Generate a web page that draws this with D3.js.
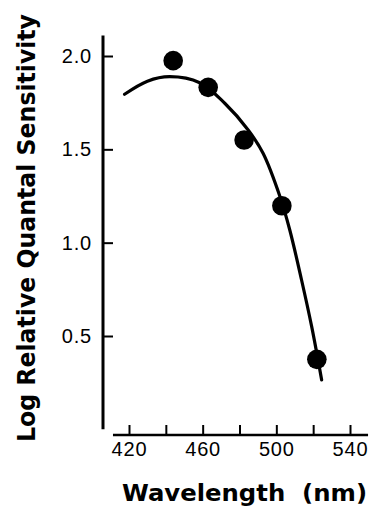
<!DOCTYPE html>
<html><head><meta charset="utf-8">
<script src="https://cdn.jsdelivr.net/npm/d3@7"></script>
<style>
html,body{margin:0;padding:0;background:#fff;}
svg{display:block;}
</style></head>
<body>
<svg id="chart" width="369" height="518"></svg>
<script>
// Data
const pointWavelengths = [444, 463, 482.5, 503, 522];
const pointValues = [1.975, 1.832, 1.55, 1.198, 0.375];
const curveWavelengths = [417.6, 430, 442, 458.4, 472, 484.7, 492.8, 502, 507.3, 513.7, 519.2, 524.6];
const curveValues = [1.795, 1.865, 1.889, 1.857, 1.747, 1.604, 1.479, 1.246, 1.068, 0.80, 0.55, 0.265];
const xTicks = [420, 440, 460, 480, 500, 520, 540];
const xTickLabels = ["420", "", "460", "", "500", "", "540"];
const yTicks = [0.5, 1.0, 1.5, 2.0];
const yTickLabels = ["0.5", "1.0", "1.5", "2.0"];

const svg = d3.select("#chart");
const x = d3.scaleLinear().domain([420, 540]).range([129, 350]);
const y = d3.scaleLinear().domain([0.5, 2.0]).range([336, 56]);
const yAxisX = 103, xAxisY = 435;

// Y axis
const gy = svg.append("g").attr("transform", `translate(${yAxisX},0)`)
  .call(d3.axisLeft(y).tickValues(yTicks).tickFormat((d,i)=>yTickLabels[i])
    .tickSizeInner(-10).tickSizeOuter(0).tickPadding(11));
gy.select(".domain").remove();
gy.selectAll(".tick line").attr("stroke","#000").attr("stroke-width",2);
gy.selectAll(".tick text").attr("font-family","Liberation Sans, Arial, sans-serif")
  .attr("font-size",20).attr("fill","#000").attr("letter-spacing",0.8);
svg.append("line").attr("x1",yAxisX).attr("x2",yAxisX)
  .attr("y1",y(2.11)).attr("y2",y(0.0)).attr("stroke","#000").attr("stroke-width",3);

// X axis
const gx = svg.append("g").attr("transform", `translate(0,${xAxisY})`)
  .call(d3.axisBottom(x).tickValues(xTicks).tickFormat((d,i)=>xTickLabels[i])
    .tickSizeInner(-10).tickSizeOuter(0).tickPadding(7));
gx.select(".domain").remove();
gx.selectAll(".tick line").attr("stroke","#000").attr("stroke-width",2);
gx.selectAll(".tick text").attr("font-family","Liberation Sans, Arial, sans-serif")
  .attr("font-size",20).attr("fill","#000").attr("letter-spacing",0.8);
svg.append("line").attr("x1",x(411.3)).attr("x2",x(549.8))
  .attr("y1",xAxisY).attr("y2",xAxisY).attr("stroke","#000").attr("stroke-width",2.5);

// Curve
const curveData = curveWavelengths.map((w,i)=>[w,curveValues[i]]);
const line = d3.line().x(d=>x(d[0])).y(d=>y(d[1])).curve(d3.curveCatmullRom.alpha(0.5));
svg.append("path").datum(curveData).attr("d",line)
  .attr("fill","none").attr("stroke","#000").attr("stroke-width",3.2).attr("stroke-linecap","round");

// Points
svg.selectAll("circle.pt").data(pointWavelengths.map((w,i)=>[w,pointValues[i]]))
  .enter().append("circle").attr("class","pt")
  .attr("cx",d=>x(d[0])).attr("cy",d=>y(d[1])).attr("r",9.8).attr("fill","#000");

// Axis titles
svg.append("text").attr("transform","translate(35,228) rotate(-90) scale(1,1.2)")
  .attr("text-anchor","middle").attr("font-family","DejaVu Sans, sans-serif")
  .attr("font-weight","bold").attr("font-size",21).attr("fill","#000")
  .attr("textLength",428).attr("lengthAdjust","spacingAndGlyphs")
  .text("Log Relative Quantal Sensitivity");
svg.append("text").attr("x",244.5).attr("y",501)
  .attr("text-anchor","middle").attr("font-family","DejaVu Sans, sans-serif")
  .attr("font-weight","bold").attr("font-size",23).attr("fill","#000")
  .attr("textLength",245).attr("lengthAdjust","spacingAndGlyphs")
  .attr("xml:space","preserve").style("white-space","pre")
  .text("Wavelength  (nm)");
</script>
</body></html>
